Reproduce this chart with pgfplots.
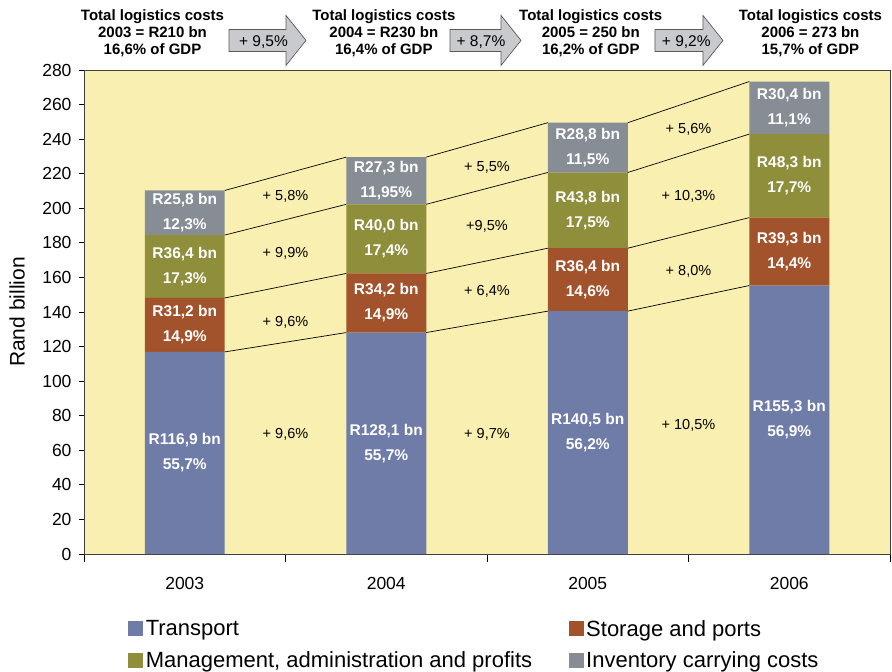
\documentclass[border=0pt]{standalone}
\usepackage{fontspec}
\setmainfont{Liberation Sans}
\usepackage{pgfplots}
\usepackage{pgfplotstable}
\pgfplotsset{compat=1.18}

\definecolor{cTrans}{HTML}{6F7CA8}
\definecolor{cStor}{HTML}{A3532C}
\definecolor{cMgmt}{HTML}{8F8E3A}
\definecolor{cInv}{HTML}{878D94}
\definecolor{bgY}{HTML}{F9EFB0}
\definecolor{arrG}{HTML}{C8CACE}

\pgfplotstableread{
x transport storage mgmt inventory
0 116.9 31.2 36.4 25.8
1 128.1 34.2 40.0 27.3
2 140.5 36.4 43.8 28.8
3 155.3 39.3 48.3 30.4
}\costs

\pgfplotsset{
 sqleg/.style={legend image code/.code={\fill[##1] (0bp,-7.5bp) rectangle (15bp,7.5bp);}},
}
\tikzset{
 barlab/.style={text=white, font=\fontsize{15.5bp}{25bp}\selectfont\bfseries, align=center},
 pctlab/.style={font=\fontsize{14.5bp}{17bp}\selectfont},
 toplab/.style={font=\fontsize{15bp}{17.3bp}\selectfont\bfseries, align=center},
 garr/.style={draw=black!65, fill=arrG, line width=0.7bp},
}

\begin{document}
\begin{tikzpicture}
\useasboundingbox (-84bp,-118bp) rectangle (808bp,554bp);
\begin{axis}[
 scale only axis, width=806bp, height=484bp,
 xmin=-0.5, xmax=3.5, ymin=0, ymax=280,
 ybar stacked, bar width=0.397,
 axis background/.style={fill=bgY},
 axis line style={draw=black!75, line width=0.8bp},
 xtick={0,1,2,3}, xticklabels={2003,2004,2005,2006},
 minor xtick={-0.5,0.5,1.5,2.5,3.5},
 major x tick style={draw=none},
 ytick={0,20,...,280},
 tick align=outside, xtick pos=bottom, ytick pos=left,
 major tick length=5bp, minor tick length=8bp,
 every tick/.style={black, line width=0.8bp},
 /pgf/number format/assume math mode=true,
 ticklabel style={font=\fontsize{17.5bp}{20bp}\selectfont},
 xticklabel style={yshift=-15bp},
 yticklabel style={xshift=-4bp},
 ylabel={Rand billion},
 ylabel style={font=\fontsize{21bp}{24bp}\selectfont, at={(axis description cs:-0.0831,0.5)}, anchor=center},
 legend columns=2,
 legend cell align=left,
 legend style={at={(axis description cs:0.051,-0.127)}, anchor=north west, draw=none, fill=none,
   font=\fontsize{22bp}{25bp}\selectfont, row sep=9bp,
   nodes={inner sep=2.5bp},
   /tikz/every even column/.append style={column sep=34bp}},
]
\addplot[fill=cTrans, draw=none, sqleg] table[x=x,y=transport]{\costs};
\addlegendentry{Transport}
\addplot[fill=cStor, draw=none, sqleg] table[x=x,y=storage]{\costs};
\addlegendentry{Storage and ports}
\addplot[fill=cMgmt, draw=none, sqleg] table[x=x,y=mgmt]{\costs};
\addlegendentry{Management, administration and profits}
\addplot[fill=cInv, draw=none, sqleg] table[x=x,y=inventory]{\costs};
\addlegendentry{Inventory carrying costs}
\end{axis}

\begin{axis}[
 scale only axis, width=806bp, height=484bp,
 xmin=-0.5, xmax=3.5, ymin=0, ymax=280,
 hide axis, clip=false,
]
% connector lines between cumulative segment tops
\addplot[black, line width=0.7bp] coordinates {(0.1985,116.9) (0.8015,128.1)};
\addplot[black, line width=0.7bp] coordinates {(0.1985,148.1) (0.8015,162.3)};
\addplot[black, line width=0.7bp] coordinates {(0.1985,184.5) (0.8015,202.3)};
\addplot[black, line width=0.7bp] coordinates {(0.1985,210.3) (0.8015,229.6)};
\addplot[black, line width=0.7bp] coordinates {(1.1985,128.1) (1.8015,140.5)};
\addplot[black, line width=0.7bp] coordinates {(1.1985,162.3) (1.8015,176.9)};
\addplot[black, line width=0.7bp] coordinates {(1.1985,202.3) (1.8015,220.7)};
\addplot[black, line width=0.7bp] coordinates {(1.1985,229.6) (1.8015,249.5)};
\addplot[black, line width=0.7bp] coordinates {(2.1985,140.5) (2.8015,155.3)};
\addplot[black, line width=0.7bp] coordinates {(2.1985,176.9) (2.8015,194.6)};
\addplot[black, line width=0.7bp] coordinates {(2.1985,220.7) (2.8015,242.9)};
\addplot[black, line width=0.7bp] coordinates {(2.1985,249.5) (2.8015,273.3)};

% bar labels
\node[barlab] at (axis cs:0,58.45) {R116,9 bn\\55,7\%};
\node[barlab] at (axis cs:0,132.5) {R31,2 bn\\14,9\%};
\node[barlab] at (axis cs:0,166.3) {R36,4 bn\\17,3\%};
\node[barlab] at (axis cs:0,197.4) {R25,8 bn\\12,3\%};
\node[barlab] at (axis cs:1,64.05) {R128,1 bn\\55,7\%};
\node[barlab] at (axis cs:1,145.2) {R34,2 bn\\14,9\%};
\node[barlab] at (axis cs:1,182.3) {R40,0 bn\\17,4\%};
\node[barlab] at (axis cs:1,215.95) {R27,3 bn\\11,95\%};
\node[barlab] at (axis cs:2,70.25) {R140,5 bn\\56,2\%};
\node[barlab] at (axis cs:2,158.7) {R36,4 bn\\14,6\%};
\node[barlab] at (axis cs:2,198.8) {R43,8 bn\\17,5\%};
\node[barlab] at (axis cs:2,235.1) {R28,8 bn\\11,5\%};
\node[barlab] at (axis cs:3,77.65) {R155,3 bn\\56,9\%};
\node[barlab] at (axis cs:3,174.95) {R39,3 bn\\14,4\%};
\node[barlab] at (axis cs:3,218.75) {R48,3 bn\\17,7\%};
\node[barlab] at (axis cs:3,258.1) {R30,4 bn\\11,1\%};

% growth labels
\node[pctlab] at (axis cs:0.5,207.1) {+ 5,8\%};
\node[pctlab] at (axis cs:0.5,174.1) {+ 9,9\%};
\node[pctlab] at (axis cs:0.5,134.2) {+ 9,6\%};
\node[pctlab] at (axis cs:0.5,69.4) {+ 9,6\%};
\node[pctlab] at (axis cs:1.5,223.8) {+ 5,5\%};
\node[pctlab] at (axis cs:1.5,189.7) {+9,5\%};
\node[pctlab] at (axis cs:1.5,152.1) {+ 6,4\%};
\node[pctlab] at (axis cs:1.5,69.4) {+ 9,7\%};
\node[pctlab] at (axis cs:2.5,245.8) {+ 5,6\%};
\node[pctlab] at (axis cs:2.5,207.1) {+ 10,3\%};
\node[pctlab] at (axis cs:2.5,163.7) {+ 8,0\%};
\node[pctlab] at (axis cs:2.5,74.6) {+ 10,5\%};

% top annotations
\node[toplab] at (axis cs:-0.160,301.2) {Total logistics costs\\2003 = R210 bn\\16,6\% of GDP};
\node[toplab] at (axis cs:0.988,301.2) {Total logistics costs\\2004 = R230 bn\\16,4\% of GDP};
\node[toplab] at (axis cs:2.015,301.2) {Total logistics costs\\2005 = 250 bn\\16,2\% of GDP};
\node[toplab] at (axis cs:3.105,301.2) {Total logistics costs\\2006 = 273 bn\\15,7\% of GDP};

% arrows
\draw[garr] (axis cs:0.2196,297.1) ++(0bp,-11bp) -- ++(57bp,0bp) -- ++(0bp,-14bp) -- ++(20bp,25bp) -- ++(-20bp,25bp) -- ++(0bp,-14bp) -- ++(-57bp,0bp) -- cycle;
\node[pctlab, font=\fontsize{15.5bp}{17bp}\selectfont] at (axis cs:0.3908,296.4) {+ 9,5\%};
\draw[garr] (axis cs:1.3164,297.1) ++(0bp,-11bp) -- ++(51bp,0bp) -- ++(0bp,-14bp) -- ++(20bp,25bp) -- ++(-20bp,25bp) -- ++(0bp,-14bp) -- ++(-51bp,0bp) -- cycle;
\node[pctlab, font=\fontsize{15.5bp}{17bp}\selectfont] at (axis cs:1.470,296.4) {+ 8,7\%};
\draw[garr] (axis cs:2.3337,297.1) ++(0bp,-11bp) -- ++(48bp,0bp) -- ++(0bp,-14bp) -- ++(20bp,25bp) -- ++(-20bp,25bp) -- ++(0bp,-14bp) -- ++(-48bp,0bp) -- cycle;
\node[pctlab, font=\fontsize{15.5bp}{17bp}\selectfont] at (axis cs:2.489,296.4) {+ 9,2\%};
\end{axis}
\end{tikzpicture}
\end{document}
